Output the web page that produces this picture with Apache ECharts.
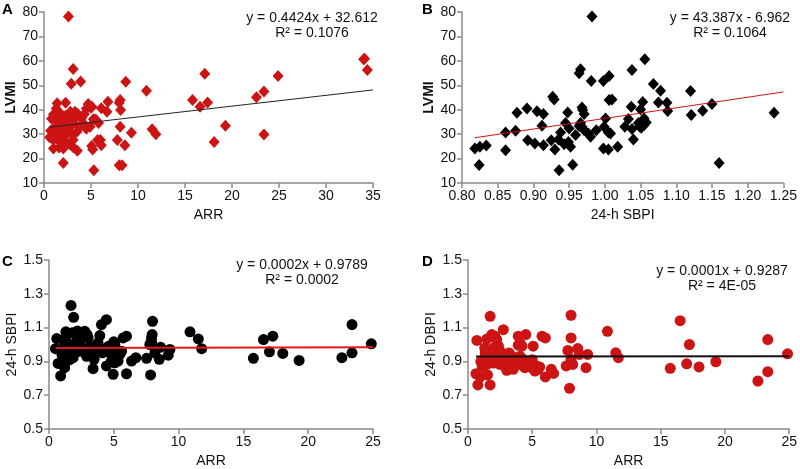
<!DOCTYPE html>
<html><head><meta charset="utf-8">
<script src="https://cdn.jsdelivr.net/npm/echarts@6/dist/echarts.min.js"></script>
<style>html,body{margin:0;padding:0;background:#fff}#c{width:800px;height:469px}</style>
</head><body><div id="c"></div>
<script>
// Panel A: ARR vs LVMI
const dataA = [[2.6,78.2],[3.1,56.7],[2.9,50.6],[3.9,51.5],[8.7,51.4],[10.9,47.8],[1.4,42.6],[2.3,42.9],[0.8,36.3],[1.3,38.5],[1.5,39.2],[1.9,37.8],[2.0,36.4],[2.8,39.2],[3.3,39.2],[3.6,38.2],[2.8,36.9],[4.2,34.4],[4.7,42.3],[5.1,41.2],[4.5,40.5],[5.25,36.1],[5.8,34.6],[6.1,40.6],[6.7,39.2],[6.8,43.3],[8.0,42.9],[8.1,44.0],[8.15,39.9],[8.1,33.0],[7.8,27.6],[8.6,25.5],[9.3,30.6],[11.5,32.0],[11.9,30.0],[8.0,17.3],[8.3,17.3],[5.3,15.2],[2.05,18.2],[1.0,24.1],[2.05,24.1],[3.1,24.6],[3.55,23.2],[5.07,25.1],[5.18,23.7],[5.7,27.6],[6.0,27.6],[6.1,25.5],[0.6,28.7],[1.0,27.6],[0.7,31.4],[1.5,28.9],[1.7,26.9],[2.05,27.6],[3.1,27.6],[3.5,31.0],[4.9,33.0],[4.5,32.2],[1.5,34.4],[1.9,33.7],[2.4,35.1],[2.95,33.7],[3.1,34.6],[2.6,33.0],[1.7,32.4],[2.2,31.6],[1.2,33.0],[3.8,33.0],[34.0,60.7],[34.1,60.9],[34.4,56.3],[24.9,53.8],[17.1,54.7],[15.8,44.0],[16.6,41.2],[17.4,43.0],[18.1,26.8],[19.3,33.4],[22.6,45.1],[23.4,47.5],[23.4,29.9],[1.3,40.5],[2.3,37.5],[1.0,38.0],[1.6,36.0],[2.5,31.0],[4.0,36.5],[4.3,38.2],[5.0,40.8],[3.2,36.0],[1.8,30.0],[2.2,29.0],[1.2,30.5],[4.0,34.0],[3.0,30.0],[5.5,36.0],[2.7,26.0],[1.6,24.5]];
const trendA = [0.4424, 32.612];
// Panel B: 24-h SBPI vs LVMI
const dataB = [[0.982,78.2],[1.056,60.7],[1.038,56.3],[0.966,56.6],[0.964,54.9],[0.981,51.8],[0.998,51.8],[1.006,53.8],[1.068,50.5],[1.078,47.8],[1.120,47.7],[0.927,45.3],[0.929,44.2],[0.877,38.8],[0.891,40.5],[0.905,39.4],[0.914,38.2],[0.912,33.4],[0.948,38.9],[0.968,40.9],[0.969,39.9],[0.971,38.2],[1.006,44.0],[1.010,44.2],[1.037,41.2],[1.053,43.2],[1.075,43.0],[1.087,42.9],[1.088,39.5],[1.121,37.8],[1.137,39.6],[1.150,42.3],[1.237,38.8],[1.160,18.2],[0.818,24.1],[0.825,24.8],[0.834,25.3],[0.824,17.4],[0.861,30.7],[0.861,23.4],[0.875,31.4],[0.892,27.5],[0.902,26.2],[0.914,25.5],[0.925,27.5],[0.930,23.7],[0.936,15.2],[0.938,30.7],[0.935,27.8],[0.945,34.6],[0.943,25.9],[0.949,26.8],[0.952,24.8],[0.950,32.3],[0.955,17.5],[0.959,29.6],[0.964,33.3],[0.968,33.0],[0.966,34.6],[0.971,31.6],[0.977,30.3],[0.980,28.9],[0.988,31.6],[0.999,33.0],[1.001,36.4],[0.998,24.1],[1.005,23.7],[1.005,30.7],[1.008,30.3],[1.018,24.8],[1.028,33.0],[1.033,36.2],[1.038,32.1],[1.040,27.8],[1.047,34.6],[1.051,32.6],[1.055,33.7],[1.055,36.4],[1.058,34.8],[1.050,40.1],[1.049,33.0]];
const trendB = [43.387, -6.962];
// Panel C: ARR vs 24-h SBPI
const dataC = [[1.7,1.231],[1.9,1.161],[0.6,1.035],[0.5,0.975],[0.7,0.888],[0.9,0.814],[1.2,0.863],[1.3,1.075],[1.35,1.049],[1.16,0.951],[1.6,0.971],[1.86,0.922],[2.1,1.069],[2.16,1.02],[2.37,1.0],[2.63,0.98],[2.76,1.078],[2.94,1.059],[3.02,1.039],[3.02,0.951],[3.4,0.961],[3.66,0.99],[3.79,1.01],[3.48,0.912],[3.4,0.857],[3.92,1.053],[4.05,1.118],[4.43,1.147],[4.12,0.951],[4.43,0.873],[4.69,0.951],[5.0,1.016],[5.08,1.0],[5.08,0.971],[4.95,0.824],[5.08,0.892],[5.33,0.902],[5.46,0.941],[5.72,1.039],[5.98,1.049],[5.98,0.827],[6.37,0.902],[6.7,0.922],[7.53,0.918],[7.91,1.039],[7.99,1.137],[7.96,1.059],[7.91,1.016],[7.78,1.0],[7.84,0.82],[8.17,0.951],[8.51,0.912],[8.61,0.984],[9.2,0.937],[9.33,0.971],[10.88,1.075],[11.52,1.033],[11.78,0.975],[15.77,0.918],[16.55,1.029],[17.01,0.957],[17.27,1.049],[18.04,0.947],[19.3,0.906],[22.6,0.922],[23.38,1.118],[23.38,0.951],[24.87,1.004],[1.5,0.93],[1.8,1.0],[2.0,0.95],[2.3,0.96],[2.5,1.04],[1.4,0.96],[1.0,0.94],[1.2,1.0],[2.8,0.97],[3.2,0.99],[4.3,0.96],[4.6,0.99],[3.9,0.98],[1.8,1.07],[2.2,1.08],[1.2,0.87],[0.9,0.89],[2.9,0.93],[5.3,0.95],[4.8,0.9],[5.6,0.96],[3.6,0.96],[1.6,0.91]];
const trendC = [0.0002, 0.9789];
// Panel D: ARR vs 24-h DBPI
const dataD = [[1.72,1.167],[8.02,1.173],[16.51,1.141],[10.85,1.078],[2.75,1.088],[23.33,1.029],[17.23,1.0],[24.87,0.945],[11.5,0.951],[11.7,0.922],[0.69,1.024],[1.47,1.033],[1.85,1.059],[2.1,1.049],[2.24,1.029],[2.37,0.99],[3.91,1.049],[4.5,1.059],[3.91,0.996],[4.09,1.004],[5.07,0.99],[5.76,1.049],[6.02,1.039],[8.02,1.039],[7.77,0.965],[8.54,0.976],[8.67,0.941],[9.31,0.941],[9.18,0.863],[8.02,0.912],[8.15,0.882],[7.64,0.873],[7.9,0.741],[0.62,0.827],[0.95,0.808],[0.77,0.761],[1.72,0.761],[1.52,0.82],[6.02,0.808],[6.48,0.853],[6.66,0.829],[15.74,0.859],[17.02,0.886],[17.98,0.867],[19.29,0.898],[22.56,0.784],[23.33,0.839],[1.21,0.912],[1.34,0.951],[1.47,0.882],[1.72,0.902],[1.85,0.941],[2.11,0.922],[2.24,0.951],[2.49,0.882],[2.75,0.902],[3.01,0.847],[3.27,0.882],[3.52,0.853],[3.65,0.902],[4.04,0.882],[4.3,0.912],[4.42,0.863],[4.68,0.873],[4.81,0.902],[4.94,0.863],[5.2,0.843],[5.32,0.873],[5.45,0.853],[5.58,0.867],[1.98,0.98],[2.49,0.961],[3.01,0.912],[3.4,0.931],[4.04,0.931],[1.1,0.87],[1.3,0.98],[2.0,0.89],[1.0,0.9],[5.0,0.91],[3.2,0.95],[4.2,0.99],[4.0,0.9]];
const trendD = [0.0001, 0.9287];

const panelLetters = ['A','B','C','D'];
const eqTexts = ['y = 0.4424x + 32.612','y = 43.387x - 6.962','y = 0.0002x + 0.9789','y = 0.0001x + 0.9287'];
const r2Texts = ['R² = 0.1076','R² = 0.1064','R² = 0.0002','R² = 4E-05'];
const xNames = ['ARR','24-h SBPI','ARR','ARR'];
const yNames = ['LVMI','LVMI','24-h SBPI','24-h DBPI'];

const FONT = 'Liberation Sans, Arial, sans-serif';
const RED = '#cc1414';
const grids = [
  {left:44, top:12, width:329, height:171},
  {left:462, top:12, width:325, height:171},
  {left:49, top:260, width:324, height:170},
  {left:468, top:260, width:324, height:170}
];
const xCfg = [
  {min:0,max:35,interval:5,fmt:v=>String(v)},
  {min:0.8,max:1.25,interval:0.05,fmt:v=>v.toFixed(2)},
  {min:0,max:25,interval:5,fmt:v=>String(v)},
  {min:0,max:25,interval:5,fmt:v=>String(v)}
];
const yCfg = [
  {min:10,max:80,interval:10,fmt:v=>String(v)},
  {min:10,max:80,interval:10,fmt:v=>String(v)},
  {min:0.5,max:1.5,interval:0.2,fmt:v=>v.toFixed(1)},
  {min:0.5,max:1.5,interval:0.2,fmt:v=>v.toFixed(1)}
];
const datas = [dataA,dataB,dataC,dataD];
const trends = [trendA,trendB,trendC,trendD];
const symbols = ['diamond','diamond','circle','circle'];
const symSizes = [[11,12],[11,12],11,11];
const colors = [RED,'#000','#000',RED];
const lineColors = ['#222',RED,'#e01818','#111'];
const lineWidths = [1,1,2,2];
const yNameBold = ['bold','bold','normal','normal'];

const axisLine = {lineStyle:{color:'#8a8a8a',width:1.5}};
const axisTick = {show:true,inside:false,length:5,lineStyle:{color:'#8a8a8a',width:1.5}};

const xAxes = xCfg.map((c,i)=>({
  type:'value', gridIndex:i, min:c.min, max:c.max, interval:c.interval,
  splitLine:{show:false}, axisLine, axisTick,
  axisLabel:{formatter:c.fmt, color:'#111', fontSize:14, fontFamily:FONT, margin:6},
  name:xNames[i], nameLocation:'middle', nameGap:25,
  nameTextStyle:{color:'#111', fontSize:14, fontFamily:FONT}
}));
const yAxes = yCfg.map((c,i)=>({
  type:'value', gridIndex:i, min:c.min, max:c.max, interval:c.interval,
  splitLine:{show:false}, axisLine:{show:true,lineStyle:axisLine.lineStyle}, axisTick,
  axisLabel:{formatter:c.fmt, color:'#111', fontSize:14, fontFamily:FONT, margin:6},
  name:yNames[i], nameLocation:'middle', nameGap:i<2?25:30, nameRotate:90,
  nameTextStyle:{color:'#111', fontSize:14, fontWeight:yNameBold[i], fontFamily:FONT}
}));

const series = [];
datas.forEach((d,i)=>{
  series.push({type:'scatter', xAxisIndex:i, yAxisIndex:i, data:d, symbol:symbols[i],
    symbolSize:symSizes[i], itemStyle:{color:colors[i], opacity:1}, silent:true});
  const xs = d.map(p=>p[0]);
  const x0 = Math.min(...xs), x1 = xCfg[i].max;
  const [m,b] = trends[i];
  series.push({type:'line', xAxisIndex:i, yAxisIndex:i, data:[[x0,m*x0+b],[x1,m*x1+b]],
    symbol:'none', lineStyle:{color:lineColors[i], width:lineWidths[i]}, silent:true, z:5});
});

const letterPos = [[2,2],[422,2],[2,254],[422,254]];
const eqPos = [[312,11],[730,11],[302,258],[722,264]];
const graphic = [];
panelLetters.forEach((L,i)=>{
  graphic.push({type:'text', left:letterPos[i][0], top:letterPos[i][1],
    style:{text:L, font:'bold 15px '+FONT, fill:'#000'}});
  graphic.push({type:'text', x:eqPos[i][0], y:eqPos[i][1],
    style:{text:eqTexts[i], font:'14px '+FONT, fill:'#111', align:'center', verticalAlign:'top'}});
  graphic.push({type:'text', x:eqPos[i][0], y:eqPos[i][1]+15,
    style:{text:r2Texts[i], font:'14px '+FONT, fill:'#111', align:'center', verticalAlign:'top'}});
});

const chart = echarts.init(document.getElementById('c'), null, {renderer:'canvas'});
chart.setOption({
  animation:false, backgroundColor:'#fff',
  grid:grids, xAxis:xAxes, yAxis:yAxes, series, graphic
});
</script></body></html>
